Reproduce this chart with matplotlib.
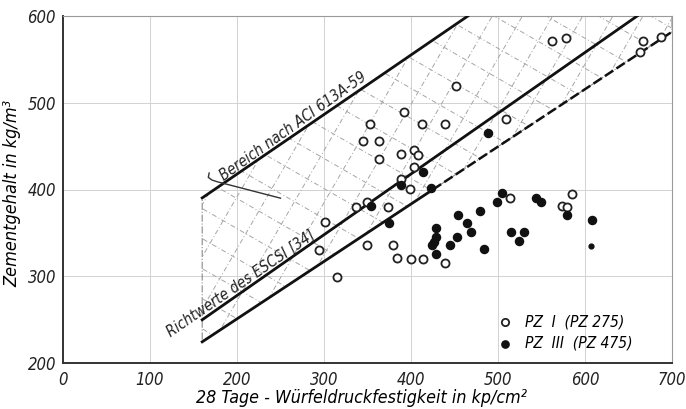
import numpy as np
import matplotlib
matplotlib.use("Agg")
import matplotlib.pyplot as plt
from matplotlib.patches import Polygon

plt.rcParams['font.family'] = ['DejaVu Sans']
plt.rcParams['font.style'] = 'italic'
plt.rcParams['font.stretch'] = 'condensed'

# PZ I (PZ 275) - open circles: strength kp/cm2, cement kg/m3
pz1_x = [562.6, 578, 666.7, 663.6, 687, 451.6, 438.6, 509, 392.5, 413,
         353.3, 344.5, 363.7, 363.3, 389, 403, 408, 403.2, 389, 398.6,
         337.2, 349.9, 373.6, 300.7, 294, 349.5, 379.4, 384, 399.8, 414,
         439, 314.9, 513.8, 573.4, 579, 584.9]
pz1_y = [571.5, 575, 571, 559, 575.4, 519.4, 476, 481, 489.4, 476,
         475.6, 455.6, 455.6, 435, 440.7, 445, 440, 426, 412, 400.3,
         380, 386, 380.3, 362.3, 330.4, 335.8, 336, 320.8, 320, 320,
         315.8, 299.7, 390.3, 381, 380.4, 395]

# PZ III (PZ 475) - filled circles
pz3_x = [488, 414, 389, 422.5, 354.5, 374.8, 429.3, 428.6, 426, 423.6,
         429.3, 444.5, 453.2, 453.8, 464, 469, 479, 484, 504.2, 498.5,
         543.8, 549.5, 514.6, 530, 524.4, 579, 608.6]
pz3_y = [465.6, 420, 405.6, 401.5, 380.5, 361, 355.4, 345.7, 340, 336,
         326, 336.5, 345.5, 370.7, 361, 350.8, 375.5, 331.2, 395.7, 386,
         390.3, 385.4, 350.6, 350.6, 341, 370.6, 364.6]
pz3_small_x = [606.8]
pz3_small_y = [335.4]

# boundary lines
aci_x = [160, 465.4]
aci_y = [390.3, 600]
escsi_up_x = [160, 660]
escsi_up_y = [249.8, 600]
escsi_lo_x = [160, 425]
escsi_lo_y = [224.4, 399.8]
escsi_dash_x = [425, 700]
escsi_dash_y = [399.8, 581.8]

leader_x = [168, 167, 171, 177, 250]
leader_y = [419, 414, 411, 409, 390]

fig = plt.figure(figsize=(6.86, 4.09), dpi=100)
ax = fig.add_axes([63/686, 46/409, 609/686, 347/409])
ax.set_xlim(0, 700)
ax.set_ylim(200, 600)

ax.set_xticks(range(0, 701, 100))
ax.set_yticks(range(200, 601, 100))
ax.grid(True, color='#d2d2d2', linewidth=0.7)
ax.set_axisbelow(True)
ax.tick_params(length=0, labelsize=12, colors='#222222')
ax.tick_params(axis='x', pad=6)
ax.tick_params(axis='y', pad=5)
for s in ['left', 'bottom']:
    ax.spines[s].set_linewidth(1.4)
    ax.spines[s].set_color('#333333')
for s in ['top', 'right']:
    ax.spines[s].set_linewidth(0.8)
    ax.spines[s].set_color('#9a9a9a')

# hatched region between ACI line and lower ESCSI line
region = Polygon([(aci_x[0], aci_y[0]), (aci_x[1], aci_y[1]), (700, 600),
                  (700, escsi_dash_y[1]), (escsi_lo_x[0], escsi_lo_y[0])],
                 closed=True, facecolor='none', edgecolor='#8a8a8a',
                 linewidth=0.8, linestyle='-.')
ax.add_patch(region)
t = np.linspace(-700, 700, 2)
for ang in (60, -30):
    d = np.array([np.cos(np.radians(ang)), np.sin(np.radians(ang))])
    nrm = np.array([-d[1], d[0]])
    for k in range(-40, 41):
        p0 = np.array([430, 430]) + k * 30 * nrm
        ln, = ax.plot(p0[0] + t * d[0], p0[1] + t * d[1], color='#a5a5a5',
                      linewidth=0.7, linestyle=(0, (5, 2.5, 1, 2.5)), zorder=1)
        ln.set_clip_path(region)

ax.plot(aci_x, aci_y, color='#111111', linewidth=2.0, zorder=3)
ax.plot(escsi_up_x, escsi_up_y, color='#111111', linewidth=2.0, zorder=3)
ax.plot(escsi_lo_x, escsi_lo_y, color='#111111', linewidth=2.0, zorder=3)
ax.plot(escsi_dash_x, escsi_dash_y, color='#111111', linewidth=1.8,
        linestyle=(0, (4, 1.5)), zorder=3)
ax.plot(leader_x, leader_y, color='#333333', linewidth=1.0, zorder=3)

ax.scatter(pz1_x, pz1_y, s=34, facecolors='white', edgecolors='#222222',
           linewidths=1.3, zorder=4, label='PZ  I  (PZ 275)')
ax.scatter(pz3_x, pz3_y, s=34, facecolors='#111111', edgecolors='#111111',
           linewidths=1.0, zorder=4, label='PZ  III  (PZ 475)')
ax.scatter(pz3_small_x, pz3_small_y, s=12, color='#111111', zorder=4)

ax.text(264, 473, 'Bereich nach ACI 613A-59', rotation=35.4,
        ha='center', va='center', fontsize=10.8, color='#222222',
        rotation_mode='anchor')
ax.text(204, 291, 'Richtwerte des ESCSI [34]', rotation=34.5,
        ha='center', va='center', fontsize=10.8, color='#222222',
        rotation_mode='anchor')

ax.legend(loc='upper left', bbox_to_anchor=(0.69, 0.158), frameon=False,
          fontsize=11.2, handletextpad=0.3, labelspacing=0.4,
          borderaxespad=0, markerscale=0.9)

ax.set_xlabel('28 Tage - Würfeldruckfestigkeit in kp/cm²', fontsize=12.8,
              labelpad=0, va='center')
ax.xaxis.set_label_coords(0.49, -0.1)
ax.set_ylabel('Zementgehalt in kg/m³', fontsize=13, labelpad=0,
              va='center')
ax.yaxis.set_label_coords(-0.083, 0.49)

fig.savefig('out.png', dpi=100)
